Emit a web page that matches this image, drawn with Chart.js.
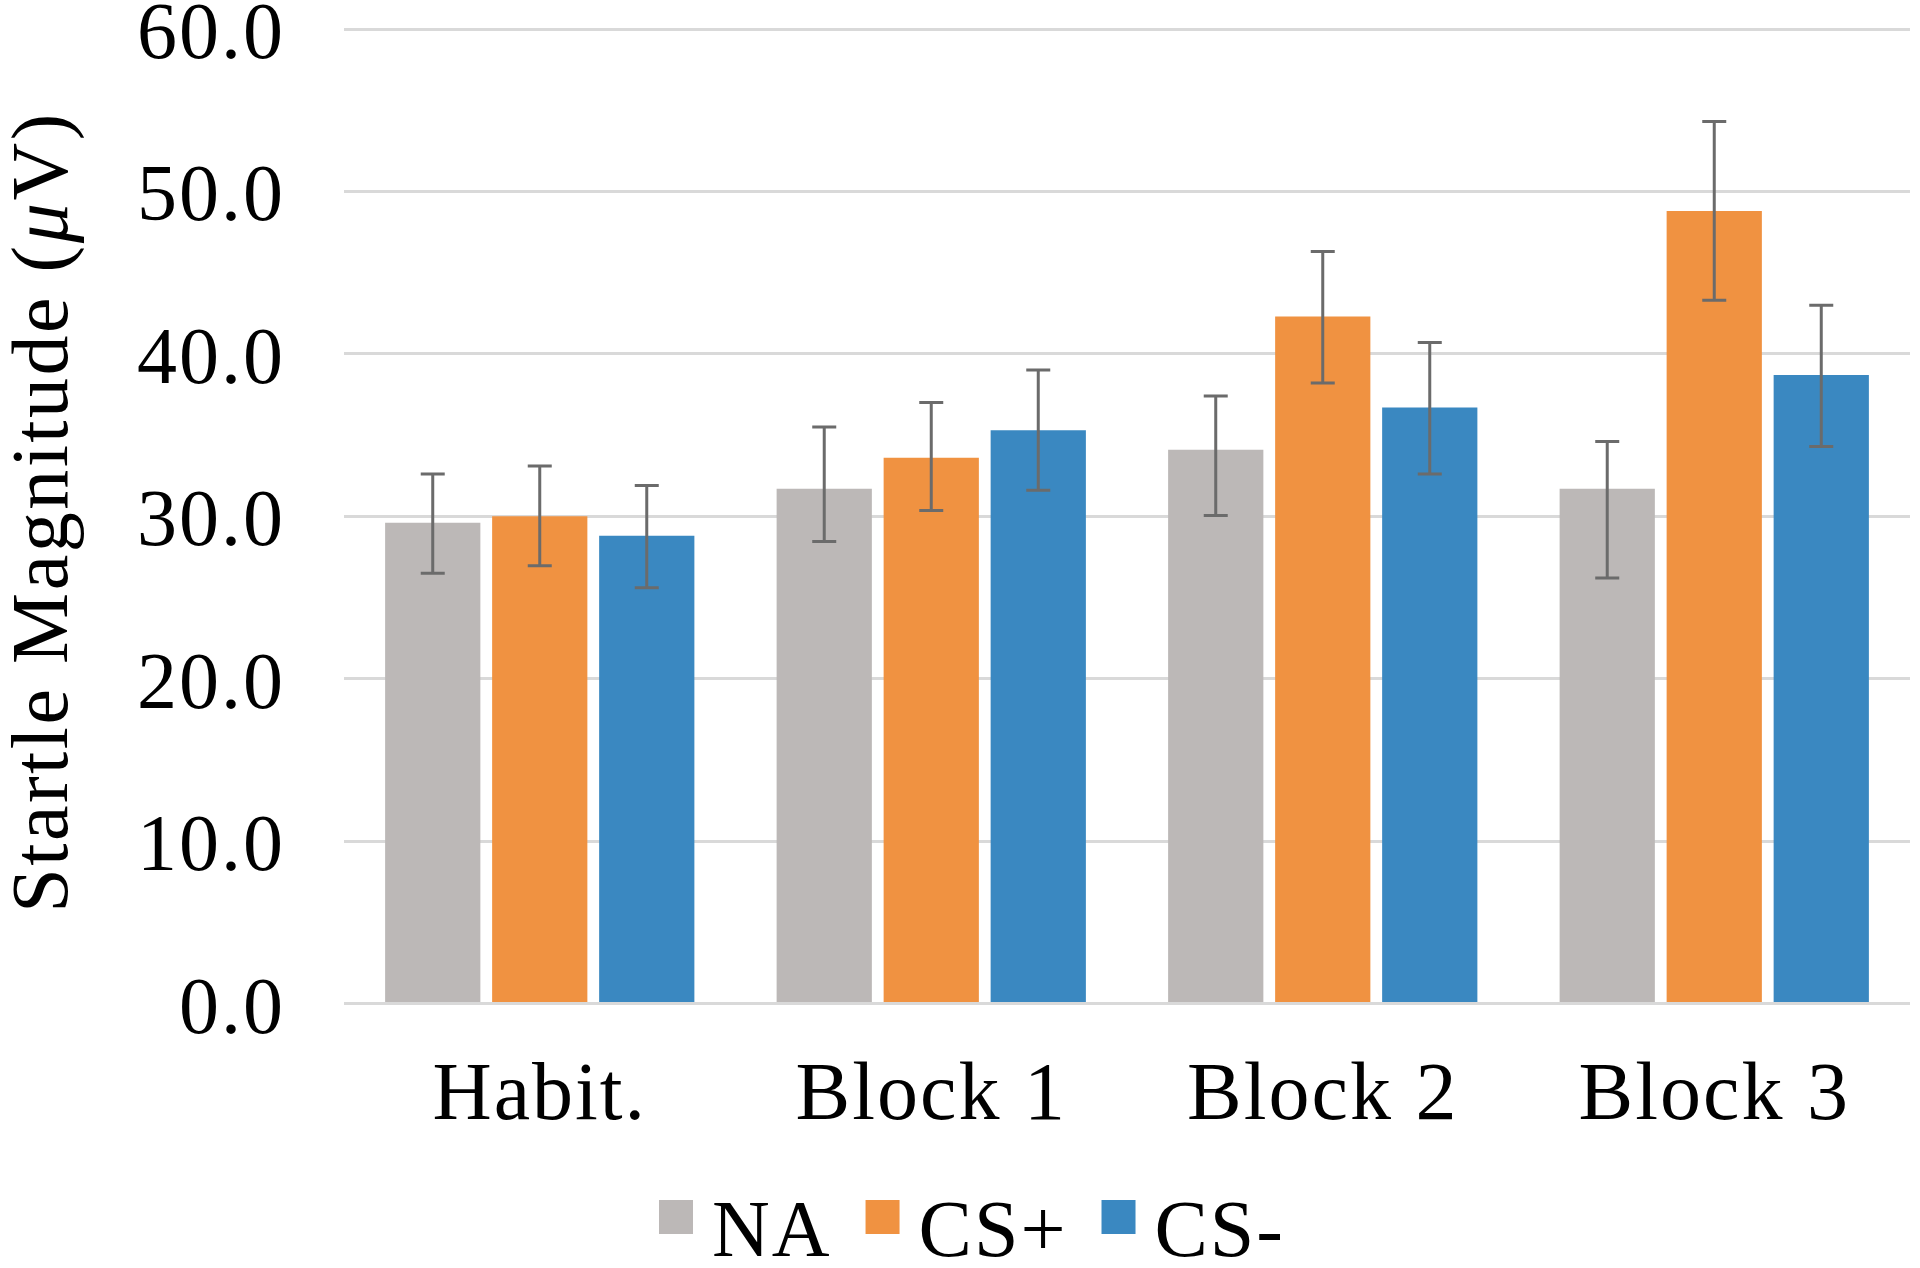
<!DOCTYPE html>
<html>
<head>
<meta charset="utf-8">
<script src="https://cdn.jsdelivr.net/npm/chart.js@4.4.1/dist/chart.umd.min.js"></script>
<style>
  html, body { margin: 0; padding: 0; background: #fff; }
  #wrap { width: 1920px; height: 1268px; }
</style>
</head>
<body>
<div id="wrap"><canvas id="chart"></canvas></div>
<script>
const categories = ['Habit.', 'Block 1', 'Block 2', 'Block 3'];
const seriesNames = ['NA', 'CS+', 'CS-'];
const valuesNA = [29.6, 31.7, 34.1, 31.7];
const valuesCSplus = [30.0, 33.6, 42.3, 48.8];
const valuesCSminus = [28.8, 35.3, 36.7, 38.7];
// error bar extents above / below each bar (not symmetric in the source)
const errUpNA = [3.0, 3.8, 3.3, 2.9];
const errDownNA = [3.1, 3.25, 4.05, 5.5];
const errUpCSplus = [3.1, 3.4, 4.0, 5.5];
const errDownCSplus = [3.05, 3.25, 4.1, 5.5];
const errUpCSminus = [3.1, 3.7, 4.0, 4.3];
const errDownCSminus = [3.2, 3.7, 4.1, 4.4];
const colors = ['#bcb8b7', '#f09241', '#3a88c1'];

const FONT = "'Liberation Serif', 'Times New Roman', serif";

// wider glyph spacing, closer to the Garamond look of the original
const spacing = {
  id: 'spacing',
  beforeDraw(chart) { chart.ctx.letterSpacing = '2px'; }
};

// draws error whiskers on each bar
const errorBars = {
  id: 'errorBars',
  afterDatasetsDraw(chart) {
    const { ctx } = chart;
    const y = chart.scales.y;
    ctx.save();
    ctx.strokeStyle = '#6b6b6b';
    ctx.lineWidth = 3;
    chart.data.datasets.forEach((ds, i) => {
      chart.getDatasetMeta(i).data.forEach((bar, j) => {
        const v = ds.data[j];
        const top = y.getPixelForValue(v + ds.errUp[j]);
        const bot = y.getPixelForValue(v - ds.errDown[j]);
        const x = bar.x;
        ctx.beginPath();
        ctx.moveTo(x, top); ctx.lineTo(x, bot);
        ctx.moveTo(x - 12, top); ctx.lineTo(x + 12, top);
        ctx.moveTo(x - 12, bot); ctx.lineTo(x + 12, bot);
        ctx.stroke();
      });
    });
    ctx.restore();
  }
};

// y title with italic mu
const yTitle = {
  id: 'yTitle',
  afterDraw(chart) {
    const { ctx } = chart;
    const parts = [
      ['Startle Magnitude (', '80px ' + FONT],
      ['\u03BC', 'italic 80px ' + FONT],
      ['V)', '80px ' + FONT]
    ];
    ctx.save();
    ctx.letterSpacing = '2.5px';
    let total = 0;
    parts.forEach(p => { ctx.font = p[1]; total += ctx.measureText(p[0]).width; });
    ctx.translate(46, 512);
    ctx.rotate(-Math.PI / 2);
    ctx.fillStyle = '#000';
    ctx.textBaseline = 'middle';
    let x = -total / 2;
    parts.forEach(p => {
      ctx.font = p[1];
      ctx.fillText(p[0], x, 0);
      x += ctx.measureText(p[0]).width;
    });
    ctx.restore();
  }
};

// legend drawn by hand so the box/text gaps match the original
const legendRow = {
  id: 'legendRow',
  afterDraw(chart) {
    const { ctx } = chart;
    ctx.save();
    ctx.letterSpacing = '2px';
    ctx.font = '80px ' + FONT;
    ctx.textBaseline = 'alphabetic';
    const items = chart.data.datasets.map(ds => ({ text: ds.label, color: ds.backgroundColor }));
    const widths = items.map(it => ctx.measureText(it.text).width);
    const total = widths.reduce((a, w) => a + 53 + w, 0) + 34 * (items.length - 1);
    let x = 972 - total / 2;
    items.forEach((it, i) => {
      ctx.fillStyle = it.color;
      ctx.fillRect(x, 1200, 34, 34);
      ctx.fillStyle = '#000';
      ctx.fillText(it.text, x + 53, 1256);
      x += 53 + widths[i] + 34;
    });
    ctx.restore();
  }
};

const seriesValues = [valuesNA, valuesCSplus, valuesCSminus];
const seriesUp = [errUpNA, errUpCSplus, errUpCSminus];
const seriesDown = [errDownNA, errDownCSplus, errDownCSminus];

const datasets = seriesValues.map((vals, i) => ({
  label: seriesNames[i],
  data: vals,
  errUp: seriesUp[i],
  errDown: seriesDown[i],
  backgroundColor: colors[i],
  categoryPercentage: 0.82,
  barPercentage: 0.89
}));

new Chart(document.getElementById('chart'), {
  type: 'bar',
  data: { labels: categories, datasets },
  options: {
    responsive: true,
    maintainAspectRatio: false,
    animation: false,
    layout: { padding: { left: 86, right: 10, top: 29, bottom: 84 } },
    plugins: {
      legend: { display: false },
      tooltip: { enabled: false }
    },
    scales: {
      x: {
        grid: { display: false },
        border: { display: false },
        ticks: { color: '#000', font: { family: FONT, size: 82 }, padding: 37 },
        afterFit(scale) { scale.paddingLeft = 0; scale.paddingRight = 0; }
      },
      y: {
        min: 0, max: 60,
        grid: { color: '#d9d9d9', lineWidth: 3, drawTicks: false },
        border: { display: false },
        ticks: {
          stepSize: 10,
          color: '#000',
          padding: 59,
          labelOffset: 8,
          font: { family: FONT, size: 80 },
          callback: v => v.toFixed(1)
        },
        afterFit(scale) { scale.paddingTop = 0; scale.paddingBottom = 0; }
      }
    }
  },
  plugins: [spacing, errorBars, yTitle, legendRow]
});
</script>
</body>
</html>
